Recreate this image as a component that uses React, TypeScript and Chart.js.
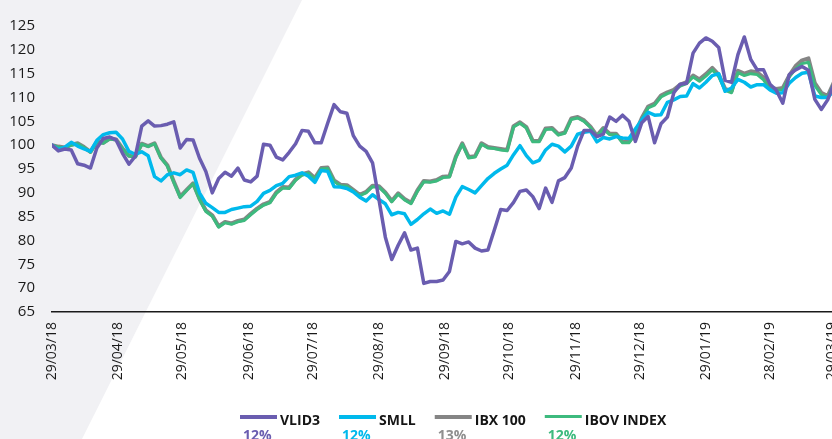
import React, { useEffect, useRef } from 'react';
import { Chart, registerables } from 'chart.js';
Chart.register(...registerables);

// calendar-day offsets from 29/03/18
const days = [0, 3, 6, 9, 12, 15, 18, 21, 24, 27, 30, 33, 36, 39, 42, 45, 48, 51, 54, 57, 60, 63, 66, 69, 72, 75, 78, 81, 84, 87, 90, 93, 96, 99, 102, 105, 108, 111, 114, 117, 120, 123, 126, 129, 132, 135, 138, 141, 144, 147, 150, 153, 156, 159, 162, 165, 168, 171, 174, 177, 180, 183, 186, 189, 192, 195, 198, 201, 204, 207, 210, 213, 216, 219, 222, 225, 228, 231, 234, 237, 240, 243, 246, 249, 252, 255, 258, 261, 264, 267, 270, 273, 276, 279, 282, 285, 288, 291, 294, 297, 300, 303, 306, 309, 312, 315, 318, 321, 324, 327, 330, 333, 336, 339, 342, 345, 348, 351, 354, 357, 360, 363, 366];

const vlid3 = [100, 98.8, 99.2, 99.0, 96.1, 95.8, 95.2, 99.4, 101.4, 101.7,
  101.1, 98.3, 96.0, 97.7, 104.0, 105.1, 104.0, 104.1, 104.4, 104.9,
  99.4, 101.2, 101.1, 97.3, 94.5, 90.0, 93.0, 94.3, 93.5, 95.2,
  92.7, 92.3, 93.5, 100.2, 100.0, 97.5, 96.9, 98.5, 100.3, 103.1,
  102.9, 100.5, 100.5, 104.6, 108.5, 107.0, 106.7, 102.0, 99.8, 98.7,
  96.3, 88.6, 80.7, 76.0, 79.0, 81.6, 78.0, 78.4, 71.0, 71.4,
  71.4, 71.7, 73.5, 79.8, 79.3, 79.7, 78.4, 77.8, 78.0, 82.2,
  86.5, 86.3, 88.0, 90.3, 90.6, 89.2, 86.7, 91.0, 88.0, 92.5,
  93.2, 95.2, 99.8, 103.1, 103.1, 101.8, 102.3, 105.9, 105.0, 106.3,
  105.0, 100.8, 104.7, 106.0, 100.5, 104.5, 105.9, 111.0, 112.8, 113.0,
  119.3, 121.4, 122.5, 121.8, 120.5, 113.6, 113.2, 119.0, 122.7, 118.0,
  115.8, 115.8, 112.8, 111.5, 108.8, 114.8, 115.8, 116.5, 115.7, 109.6,
  107.5, 109.5, 113.0];

const smll = [100, 99.1, 99.6, 100.6, 99.8, 99.2, 98.7, 101.0, 102.2, 102.6,
  102.7, 101.3, 98.7, 98.1, 98.6, 97.8, 93.4, 92.5, 93.8, 94.2,
  93.8, 94.8, 94.3, 90.0, 87.8, 86.9, 85.9, 85.9, 86.5, 86.8,
  87.1, 87.2, 88.2, 89.9, 90.5, 91.5, 92.0, 93.4, 93.7, 94.2,
  93.5, 92.2, 94.7, 94.5, 91.3, 91.2, 90.9, 90.2, 89.1, 88.3,
  89.6, 88.6, 87.7, 85.4, 85.9, 85.6, 83.4, 84.4, 85.6, 86.6,
  85.7, 86.2, 85.5, 89.1, 91.3, 90.7, 90.0, 91.5, 93.0, 94.1,
  95.0, 95.8, 98.0, 99.9, 97.8, 96.3, 96.8, 99.0, 100.2, 99.8,
  98.6, 99.8, 102.3, 102.7, 102.9, 100.7, 101.6, 101.3, 101.8, 101.5,
  101.4, 103.4, 105.3, 106.9, 106.3, 106.4, 109.0, 109.5, 110.2, 110.3,
  112.9, 112.0, 113.2, 114.6, 115.0, 111.3, 112.0, 113.8, 113.2, 112.2,
  112.7, 112.7, 111.6, 110.9, 111.0, 113.0, 114.2, 115.1, 115.3, 110.3,
  110.0, 110.0, 111.5];

const ibx100 = [100, 99.7, 99.5, 100.1, 100.4, 99.6, 98.6, 100.7, 100.5, 101.4,
  101.2, 99.3, 97.8, 97.6, 100.3, 99.8, 100.4, 97.4, 95.8, 92.4,
  89.2, 90.6, 92.0, 88.8, 86.3, 85.3, 83.0, 83.9, 83.6, 84.1,
  84.4, 85.6, 86.7, 87.6, 88.1, 90.1, 91.2, 91.1, 92.8, 93.9,
  94.3, 93.1, 95.2, 95.3, 92.6, 91.7, 91.6, 90.6, 89.6, 90.2,
  91.5, 91.4, 90.1, 88.3, 89.9, 88.7, 87.9, 90.5, 92.5, 92.4,
  92.7, 93.4, 93.5, 97.6, 100.4, 97.5, 97.7, 100.4, 99.6, 99.4,
  99.2, 99.0, 104.0, 104.8, 103.8, 100.9, 100.9, 103.5, 103.6, 102.3,
  102.7, 105.6, 105.9, 105.2, 103.9, 102.0, 103.6, 102.4, 102.4, 100.7,
  100.7, 102.5, 105.7, 108.1, 108.7, 110.4, 111.1, 111.6, 112.7, 113.2,
  114.6, 113.8, 114.9, 116.2, 114.8, 111.8, 111.3, 115.6, 115.0, 115.5,
  115.3, 114.2, 112.1, 111.8, 112.0, 114.6, 116.6, 117.8, 118.2, 113.0,
  111.0, 110.3, 113.3];

const ibov = [100, 99.6, 99.4, 100.0, 100.3, 99.5, 98.5, 100.6, 100.4, 101.3,
  101.1, 99.2, 97.7, 97.5, 100.2, 99.7, 100.3, 97.3, 95.6, 92.2,
  89.0, 90.5, 91.9, 88.6, 86.1, 85.1, 82.8, 83.7, 83.4, 83.9,
  84.2, 85.4, 86.5, 87.4, 87.9, 89.9, 91.0, 90.9, 92.6, 93.7,
  94.1, 92.9, 95.0, 95.1, 92.4, 91.5, 91.4, 90.4, 89.4, 90.0,
  91.3, 91.2, 89.9, 88.1, 89.7, 88.5, 87.7, 90.3, 92.3, 92.2,
  92.5, 93.2, 93.3, 97.4, 100.2, 97.3, 97.5, 100.2, 99.4, 99.3,
  99.0, 98.8, 103.8, 104.6, 103.6, 100.7, 100.7, 103.3, 103.4, 102.1,
  102.5, 105.4, 105.7, 105.0, 103.7, 101.8, 103.4, 102.2, 102.2, 100.5,
  100.5, 102.3, 105.4, 107.8, 108.4, 110.1, 110.8, 111.3, 112.4, 112.9,
  114.3, 113.4, 114.5, 115.8, 114.4, 111.5, 111.0, 115.2, 114.6, 115.0,
  114.8, 113.7, 111.7, 111.5, 111.6, 114.3, 116.0, 117.1, 117.4, 112.5,
  110.6, 110.0, 113.0];

const tickDays = [0, 31, 61, 92, 122, 153, 184, 214, 245, 275, 306, 336, 365];
const tickLabels = ['29/03/18', '29/04/18', '29/05/18', '29/06/18', '29/07/18', '29/08/18', '29/09/18', '29/10/18', '29/11/18', '29/12/18', '29/01/19', '28/02/19', '29/03/19'];

const seriesNames = ['VLID3', 'SMLL', 'IBX 100', 'IBOV INDEX'];
const seriesReturns = ['12%', '12%', '13%', '12%'];
const seriesColors = ['#6a5db0', '#00b9ec', '#858585', '#3dba7e'];
const returnColors = ['#6a5db0', '#00b9ec', '#8f8f8f', '#3dba7e'];

export default function App() {
  const ref = useRef<HTMLCanvasElement>(null);

  useEffect(() => {
    const canvas = ref.current;
    if (!canvas) return;
    const pts = (arr: number[]) => days.map((d, i) => ({ x: d, y: arr[i] }));

    const bgPlugin = {
      id: 'bgShape',
      beforeDraw(chart: any) {
        const c = chart.ctx;
        c.save();
        c.fillStyle = '#ffffff';
        c.fillRect(0, 0, chart.width, chart.height);
        c.fillStyle = '#f1f1f4';
        c.beginPath();
        c.moveTo(0, 0);
        c.lineTo(302, 0);
        c.lineTo(82, 439);
        c.lineTo(0, 439);
        c.closePath();
        c.fill();
        c.restore();
      },
    };

    const legendPlugin = {
      id: 'customLegend',
      afterDraw(chart: any) {
        const c = chart.ctx;
        c.save();
        c.font = 'bold 14px "Open Sans"';
        c.textBaseline = 'alphabetic';
        c.textAlign = 'left';
        let x = 240;
        seriesNames.forEach((name, i) => {
          c.fillStyle = seriesColors[i];
          c.fillRect(x, 415, 37, i === 3 ? 3 : 4);
          c.fillStyle = '#151515';
          c.fillText(name, x + 40, 425);
          const w = c.measureText(name).width;
          c.fillStyle = returnColors[i];
          c.fillText(seriesReturns[i], x + 3, 440);
          x += 40 + w + 19;
        });
        c.restore();
      },
    };

    const mkDs = (label: string, data: number[], color: string, width: number, order: number) => ({
      label,
      data: pts(data),
      borderColor: color,
      backgroundColor: color,
      borderWidth: width,
      pointRadius: 0,
      tension: 0,
      fill: false,
      order,
      borderJoinStyle: 'round' as const,
      borderCapStyle: 'round' as const,
    });

    const chart = new Chart(canvas, {
      type: 'line',
      data: {
        datasets: [
          mkDs(seriesNames[0], vlid3, seriesColors[0], 3.5, 0),
          mkDs(seriesNames[1], smll, seriesColors[1], 3.5, 1),
          mkDs(seriesNames[2], ibx100, seriesColors[2], 4, 3),
          mkDs(seriesNames[3], ibov, seriesColors[3], 3, 2),
        ],
      },
      options: {
        animation: false,
        responsive: false,
        devicePixelRatio: 1,
        layout: { padding: { top: 20, left: 0, right: 0, bottom: 0 } },
        plugins: { legend: { display: false }, tooltip: { enabled: false } },
        scales: {
          x: {
            type: 'linear',
            min: 0,
            max: 380,
            grid: { display: false, drawTicks: false },
            border: { display: true, color: '#1a1a1a', width: 1.5 },
            afterBuildTicks: (scale: any) => {
              scale.ticks = tickDays.map((v) => ({ value: v }));
            },
            afterFit: (scale: any) => {
              scale.height = 127;
              scale.paddingLeft = 0;
              scale.paddingRight = 0;
            },
            ticks: {
              autoSkip: false,
              minRotation: 90,
              maxRotation: 90,
              padding: 10,
              color: '#1a1a1a',
              font: { family: 'Open Sans', size: 14 },
              callback: (_v: any, i: number) => tickLabels[i] ?? '',
            },
          },
          y: {
            min: 65,
            max: 125,
            grid: { display: false, drawTicks: false },
            border: { display: false },
            afterFit: (scale: any) => {
              scale.width = 52;
            },
            ticks: {
              stepSize: 5,
              padding: 17,
              color: '#1a1a1a',
              font: { family: 'Open Sans', size: 15 },
            },
          },
        },
      },
      plugins: [bgPlugin, legendPlugin],
    });

    return () => chart.destroy();
  }, []);

  return (
    <div style={{ position: 'fixed', left: 0, top: 0, width: 832, height: 439, overflow: 'hidden', background: '#fff' }}>
      <canvas ref={ref} width={864} height={439} style={{ display: 'block' }} />
    </div>
  );
}
